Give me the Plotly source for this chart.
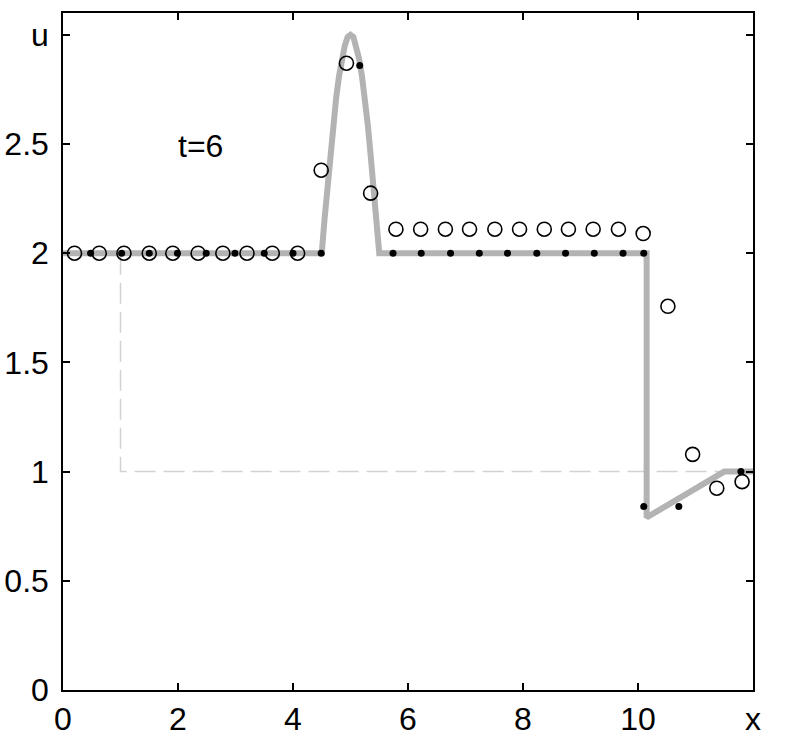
import plotly.graph_objects as go

# exact solution at t=6 (thick grey line)
exact_x = [0, 4.5, 4.55, 4.6, 4.65, 4.7, 4.75, 4.8, 4.85, 4.9, 4.95, 5.0,
           5.05, 5.1, 5.15, 5.2, 5.25, 5.3, 5.35, 5.4, 5.45, 5.5,
           10.15, 10.15, 11.5, 12]
exact_u = [2, 2, 2.16, 2.31, 2.45, 2.59, 2.71, 2.81, 2.89, 2.95, 2.99, 3.0,
           2.99, 2.95, 2.89, 2.81, 2.71, 2.59, 2.45, 2.31, 2.16, 2,
           2, 0.79, 1.0, 1.0]

# initial data (dashed)
init_x = [0, 1, 1, 12]
init_u = [2, 2, 1, 1]

# moving-mesh nodes (filled dots)
dot_x = [0.48, 1.02, 1.50, 1.99, 2.49, 2.99, 3.50, 4.00, 4.49, 5.16, 5.74, 6.23, 6.74,
         7.24, 7.73, 8.24, 8.74, 9.24, 9.74, 10.10, 10.10, 10.71, 11.79]
dot_u = [2, 2, 2, 2, 2, 2, 2, 2, 2, 2.86, 2, 2, 2,
         2, 2, 2, 2, 2, 2, 2, 0.84, 0.84, 1.0]

# fixed grid cell values (open circles)
circ_x = [0.20, 0.63, 1.06, 1.50, 1.91, 2.35, 2.78, 3.20, 3.64, 4.08, 4.49, 4.93, 5.35,
          5.79, 6.22, 6.65, 7.07, 7.51, 7.94, 8.37, 8.79, 9.22, 9.66, 10.09, 10.52,
          10.95, 11.37, 11.81]
circ_u = [2, 2, 2, 2, 2, 2, 2, 2, 2, 2, 2.38, 2.87, 2.275,
          2.11, 2.11, 2.11, 2.11, 2.11, 2.11, 2.11, 2.11, 2.11, 2.11, 2.09, 1.757,
          1.079, 0.924, 0.954]

x_ticks = [0, 2, 4, 6, 8, 10, 12]
x_labels = ["0", "2", "4", "6", "8", "10", "x"]
y_ticks = [0, 0.5, 1, 1.5, 2, 2.5, 3]
y_labels = ["0", "0.5", "1", "1.5", "2", "2.5", "u"]

FONT = "Liberation Sans, Arial, sans-serif"

fig = go.Figure()

fig.add_trace(go.Scatter(
    x=init_x, y=init_u, mode="lines",
    line=dict(color="#d2d2d2", width=1.5, dash="21px,8px"),
))
fig.add_trace(go.Scatter(
    x=exact_x, y=exact_u, mode="lines",
    line=dict(color="#b3b3b3", width=6),
))
fig.add_trace(go.Scatter(
    x=dot_x, y=dot_u, mode="markers",
    marker=dict(symbol="circle", size=7, color="black"),
))
fig.add_trace(go.Scatter(
    x=circ_x, y=circ_u, mode="markers",
    marker=dict(symbol="circle-open", size=14, color="black", line=dict(width=1.6)),
))

fig.add_annotation(
    x=2.39, y=2.49, text="t=6", showarrow=False,
    font=dict(size=32, color="black", family=FONT),
)

axis_style = dict(
    showgrid=False, zeroline=False, showline=True, mirror="ticks",
    linecolor="black", linewidth=1.5, automargin=False,
    ticks="inside", ticklen=7, tickwidth=1.5, tickcolor="black",
    tickfont=dict(size=32, color="black", family=FONT),
)

fig.update_xaxes(range=[0, 12], tickvals=x_ticks, ticktext=x_labels, **axis_style)
fig.update_yaxes(range=[0, 3.1], tickvals=y_ticks, ticktext=y_labels,
                 ticklabelstandoff=6, **axis_style)

fig.update_layout(
    width=789, height=746,
    margin=dict(l=63, r=36, t=13, b=56),
    plot_bgcolor="white", paper_bgcolor="white",
    showlegend=False,
)

# drop the browser's default body margin so the figure sits at the page origin
fig.write_html("out.html", config={"displayModeBar": False},
               post_script="document.body.style.margin='0';")
